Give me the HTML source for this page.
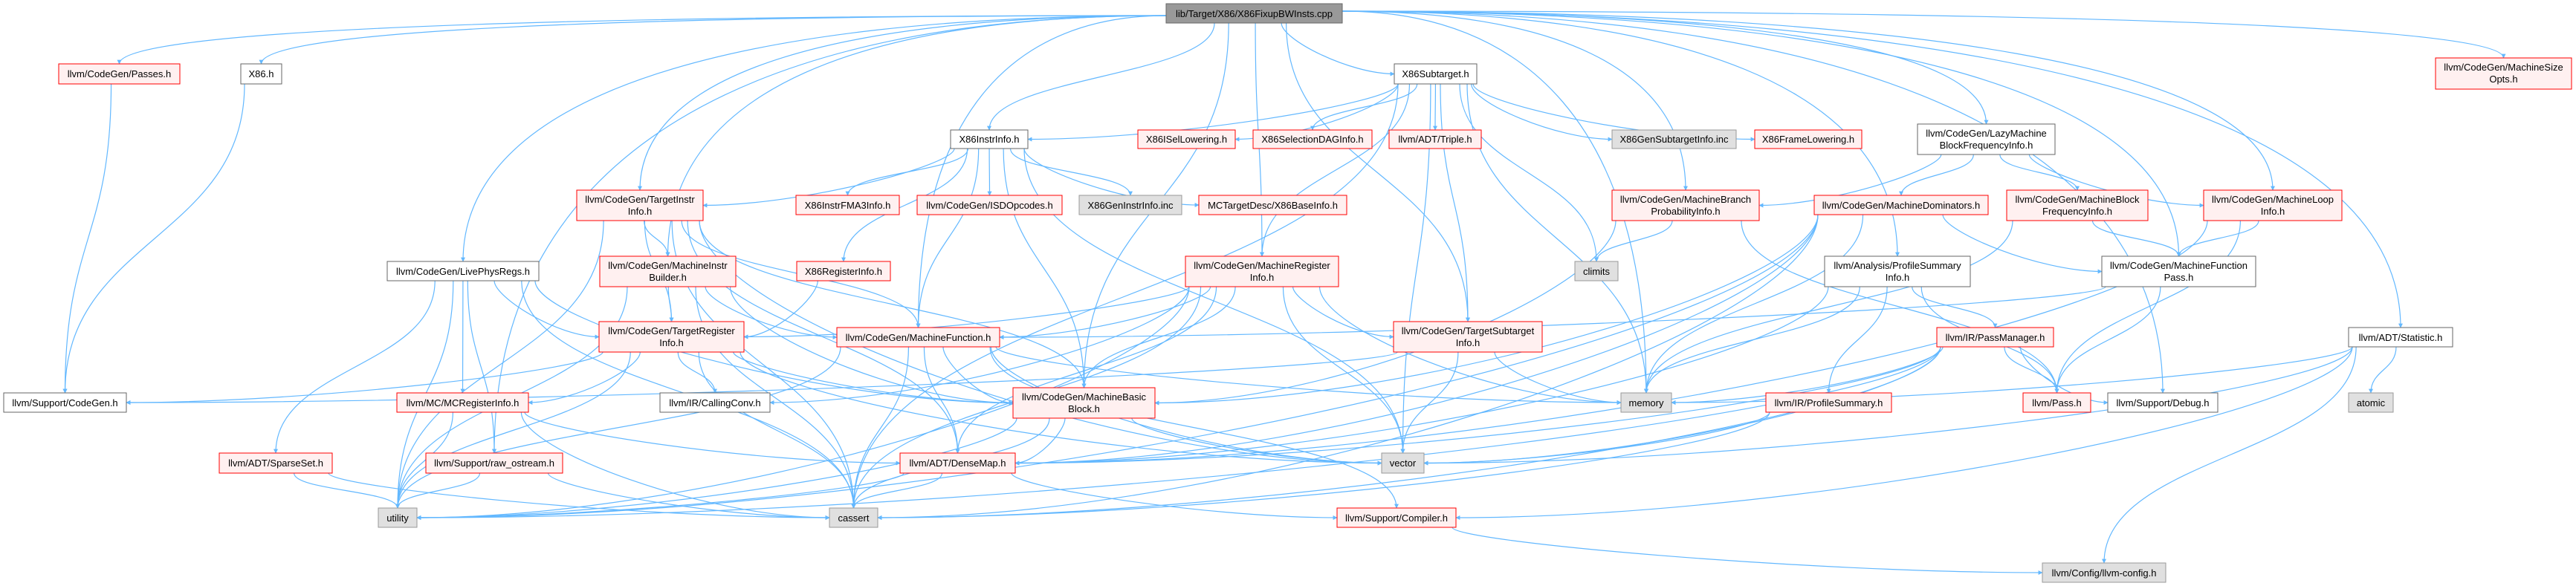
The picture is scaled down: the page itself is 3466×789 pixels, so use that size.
<!DOCTYPE html>
<html><head><meta charset="utf-8"><style>
html,body{margin:0;padding:0;background:#fff;}
svg{display:block;}
text{font-family:"Liberation Sans",Arial,sans-serif;font-size:13px;fill:#000;}
</style></head><body>
<svg id="g" width="3466" height="789" viewBox="0 0 3466 789" xmlns="http://www.w3.org/2000/svg">
<defs><marker id="a" viewBox="0 0 10 10" refX="9" refY="5" markerWidth="6" markerHeight="6" orient="auto-start-reverse" markerUnits="userSpaceOnUse"><path d="M0,0 L10,5 L0,10 z" fill="#63b8ff"/></marker></defs>
<g id="edges" fill="none" stroke="#63b8ff" stroke-width="1.2"></g>
<g id="nodes">
<rect x="1569" y="5" width="237" height="26" fill="#999" stroke="#666"/><text x="1687.5" y="23" text-anchor="middle">lib/Target/X86/X86FixupBWInsts.cpp</text>
<rect x="79" y="86" width="163" height="27" fill="#fff0f0" stroke="#f00"/><text x="160.5" y="104" text-anchor="middle">llvm/CodeGen/Passes.h</text>
<rect x="324" y="86" width="55" height="27" fill="#fff" stroke="#666"/><text x="351.5" y="104" text-anchor="middle">X86.h</text>
<rect x="1876" y="86" width="111" height="27" fill="#fff" stroke="#666"/><text x="1931.5" y="104" text-anchor="middle">X86Subtarget.h</text>
<rect x="3277" y="78" width="183" height="42" fill="#fff0f0" stroke="#f00"/><text x="3368.5" y="95" text-anchor="middle">llvm/CodeGen/MachineSize</text><text x="3368.5" y="111" text-anchor="middle">Opts.h</text>
<rect x="1279" y="175" width="104" height="25" fill="#fff" stroke="#666"/><text x="1331" y="192" text-anchor="middle">X86InstrInfo.h</text>
<rect x="1531" y="175" width="131" height="25" fill="#fff0f0" stroke="#f00"/><text x="1596.5" y="192" text-anchor="middle">X86ISelLowering.h</text>
<rect x="1686" y="175" width="160" height="25" fill="#fff0f0" stroke="#f00"/><text x="1766" y="192" text-anchor="middle">X86SelectionDAGInfo.h</text>
<rect x="1869" y="175" width="124" height="25" fill="#fff0f0" stroke="#f00"/><text x="1931" y="192" text-anchor="middle">llvm/ADT/Triple.h</text>
<rect x="2169" y="175" width="167" height="25" fill="#e0e0e0" stroke="#999"/><text x="2252.5" y="192" text-anchor="middle">X86GenSubtargetInfo.inc</text>
<rect x="2361" y="175" width="144" height="25" fill="#fff0f0" stroke="#f00"/><text x="2433" y="192" text-anchor="middle">X86FrameLowering.h</text>
<rect x="2580" y="167" width="185" height="41" fill="#fff" stroke="#666"/><text x="2672.5" y="184" text-anchor="middle">llvm/CodeGen/LazyMachine</text><text x="2672.5" y="200" text-anchor="middle">BlockFrequencyInfo.h</text>
<rect x="776" y="256" width="170" height="41" fill="#fff0f0" stroke="#f00"/><text x="861" y="273" text-anchor="middle">llvm/CodeGen/TargetInstr</text><text x="861" y="289" text-anchor="middle">Info.h</text>
<rect x="1071" y="263" width="139" height="26" fill="#fff0f0" stroke="#f00"/><text x="1140.5" y="281" text-anchor="middle">X86InstrFMA3Info.h</text>
<rect x="1234" y="263" width="195" height="26" fill="#fff0f0" stroke="#f00"/><text x="1331.5" y="281" text-anchor="middle">llvm/CodeGen/ISDOpcodes.h</text>
<rect x="1452" y="263" width="138" height="26" fill="#e0e0e0" stroke="#999"/><text x="1521" y="281" text-anchor="middle">X86GenInstrInfo.inc</text>
<rect x="1613" y="263" width="199" height="26" fill="#fff0f0" stroke="#f00"/><text x="1712.5" y="281" text-anchor="middle">MCTargetDesc/X86BaseInfo.h</text>
<rect x="2169" y="256" width="198" height="41" fill="#fff0f0" stroke="#f00"/><text x="2268" y="273" text-anchor="middle">llvm/CodeGen/MachineBranch</text><text x="2268" y="289" text-anchor="middle">ProbabilityInfo.h</text>
<rect x="2441" y="263" width="234" height="26" fill="#fff0f0" stroke="#f00"/><text x="2558" y="281" text-anchor="middle">llvm/CodeGen/MachineDominators.h</text>
<rect x="2700" y="256" width="190" height="41" fill="#fff0f0" stroke="#f00"/><text x="2795" y="273" text-anchor="middle">llvm/CodeGen/MachineBlock</text><text x="2795" y="289" text-anchor="middle">FrequencyInfo.h</text>
<rect x="2965" y="256" width="186" height="41" fill="#fff0f0" stroke="#f00"/><text x="3058" y="273" text-anchor="middle">llvm/CodeGen/MachineLoop</text><text x="3058" y="289" text-anchor="middle">Info.h</text>
<rect x="521" y="352" width="204" height="26" fill="#fff" stroke="#666"/><text x="623" y="370" text-anchor="middle">llvm/CodeGen/LivePhysRegs.h</text>
<rect x="807" y="345" width="183" height="41" fill="#fff0f0" stroke="#f00"/><text x="898.5" y="362" text-anchor="middle">llvm/CodeGen/MachineInstr</text><text x="898.5" y="378" text-anchor="middle">Builder.h</text>
<rect x="1072" y="352" width="126" height="26" fill="#fff0f0" stroke="#f00"/><text x="1135" y="370" text-anchor="middle">X86RegisterInfo.h</text>
<rect x="1595" y="345" width="206" height="41" fill="#fff0f0" stroke="#f00"/><text x="1698" y="362" text-anchor="middle">llvm/CodeGen/MachineRegister</text><text x="1698" y="378" text-anchor="middle">Info.h</text>
<rect x="2119" y="352" width="58" height="26" fill="#e0e0e0" stroke="#999"/><text x="2148" y="370" text-anchor="middle">climits</text>
<rect x="2455" y="345" width="196" height="41" fill="#fff" stroke="#666"/><text x="2553" y="362" text-anchor="middle">llvm/Analysis/ProfileSummary</text><text x="2553" y="378" text-anchor="middle">Info.h</text>
<rect x="2828" y="345" width="207" height="41" fill="#fff" stroke="#666"/><text x="2931.5" y="362" text-anchor="middle">llvm/CodeGen/MachineFunction</text><text x="2931.5" y="378" text-anchor="middle">Pass.h</text>
<rect x="806" y="433" width="195" height="41" fill="#fff0f0" stroke="#f00"/><text x="903.5" y="450" text-anchor="middle">llvm/CodeGen/TargetRegister</text><text x="903.5" y="466" text-anchor="middle">Info.h</text>
<rect x="1126" y="441" width="219" height="26" fill="#fff0f0" stroke="#f00"/><text x="1235.5" y="459" text-anchor="middle">llvm/CodeGen/MachineFunction.h</text>
<rect x="1875" y="433" width="200" height="41" fill="#fff0f0" stroke="#f00"/><text x="1975" y="450" text-anchor="middle">llvm/CodeGen/TargetSubtarget</text><text x="1975" y="466" text-anchor="middle">Info.h</text>
<rect x="2606" y="441" width="157" height="26" fill="#fff0f0" stroke="#f00"/><text x="2684.5" y="459" text-anchor="middle">llvm/IR/PassManager.h</text>
<rect x="3160" y="441" width="140" height="26" fill="#fff" stroke="#666"/><text x="3230" y="459" text-anchor="middle">llvm/ADT/Statistic.h</text>
<rect x="5" y="529" width="165" height="26" fill="#fff" stroke="#666"/><text x="87.5" y="547" text-anchor="middle">llvm/Support/CodeGen.h</text>
<rect x="534" y="529" width="177" height="26" fill="#fff0f0" stroke="#f00"/><text x="622.5" y="547" text-anchor="middle">llvm/MC/MCRegisterInfo.h</text>
<rect x="888" y="529" width="148" height="26" fill="#fff" stroke="#666"/><text x="962" y="547" text-anchor="middle">llvm/IR/CallingConv.h</text>
<rect x="1363" y="522" width="191" height="41" fill="#fff0f0" stroke="#f00"/><text x="1458.5" y="539" text-anchor="middle">llvm/CodeGen/MachineBasic</text><text x="1458.5" y="555" text-anchor="middle">Block.h</text>
<rect x="2181" y="529" width="68" height="26" fill="#e0e0e0" stroke="#999"/><text x="2215" y="547" text-anchor="middle">memory</text>
<rect x="2376" y="529" width="169" height="26" fill="#fff0f0" stroke="#f00"/><text x="2460.5" y="547" text-anchor="middle">llvm/IR/ProfileSummary.h</text>
<rect x="2722" y="529" width="91" height="26" fill="#fff0f0" stroke="#f00"/><text x="2767.5" y="547" text-anchor="middle">llvm/Pass.h</text>
<rect x="2836" y="529" width="148" height="26" fill="#fff" stroke="#666"/><text x="2910" y="547" text-anchor="middle">llvm/Support/Debug.h</text>
<rect x="3160" y="529" width="60" height="26" fill="#e0e0e0" stroke="#999"/><text x="3190" y="547" text-anchor="middle">atomic</text>
<rect x="295" y="610" width="152" height="27" fill="#fff0f0" stroke="#f00"/><text x="371" y="628" text-anchor="middle">llvm/ADT/SparseSet.h</text>
<rect x="573" y="610" width="184" height="27" fill="#fff0f0" stroke="#f00"/><text x="665" y="628" text-anchor="middle">llvm/Support/raw_ostream.h</text>
<rect x="1211" y="610" width="155" height="27" fill="#fff0f0" stroke="#f00"/><text x="1288.5" y="628" text-anchor="middle">llvm/ADT/DenseMap.h</text>
<rect x="1859" y="610" width="57" height="27" fill="#e0e0e0" stroke="#999"/><text x="1887.5" y="628" text-anchor="middle">vector</text>
<rect x="509" y="684" width="52" height="26" fill="#e0e0e0" stroke="#999"/><text x="535" y="702" text-anchor="middle">utility</text>
<rect x="1116" y="684" width="65" height="26" fill="#e0e0e0" stroke="#999"/><text x="1148.5" y="702" text-anchor="middle">cassert</text>
<rect x="1799" y="684" width="160" height="26" fill="#fff0f0" stroke="#f00"/><text x="1879" y="702" text-anchor="middle">llvm/Support/Compiler.h</text>
<rect x="2748" y="758" width="166" height="26" fill="#e0e0e0" stroke="#999"/><text x="2831" y="776" text-anchor="middle">llvm/Config/llvm-config.h</text>
</g>
</svg>
<script>
var N={
root:[1569,1806,5,31],passes:[79,242,86,113],x86:[324,379,86,113],sub:[1876,1987,86,113],mso:[3277,3460,78,120],
ii:[1279,1383,175,200],isel:[1531,1662,175,200],sdag:[1686,1846,175,200],triple:[1869,1993,175,200],gsi:[2169,2336,175,200],fl:[2361,2505,175,200],lazy:[2580,2765,167,208],
tii:[776,946,256,297],fma:[1071,1210,263,289],isd:[1234,1429,263,289],gii:[1452,1590,263,289],bi:[1613,1812,263,289],mbpi:[2169,2367,256,297],dom:[2441,2675,263,289],mbfi:[2700,2890,256,297],mli:[2965,3151,256,297],
lpr:[521,725,352,378],mib:[807,990,345,386],xri:[1072,1198,352,378],mri:[1595,1801,345,386],climits:[2119,2177,352,378],psi:[2455,2651,345,386],mfp:[2828,3035,345,386],
tri:[806,1001,433,474],mf:[1126,1345,441,467],tsi:[1875,2075,433,474],pm:[2606,2763,441,467],stat:[3160,3300,441,467],
cg:[5,170,529,555],mcri:[534,711,529,555],cc:[888,1036,529,555],mbb:[1363,1554,522,563],memory:[2181,2249,529,555],ps:[2376,2545,529,555],pass:[2722,2813,529,555],dbg:[2836,2984,529,555],atomic:[3160,3220,529,555],
ss:[295,447,610,637],raw:[573,757,610,637],dm:[1211,1366,610,637],vector:[1859,1916,610,637],
utility:[509,561,684,710],cassert:[1116,1181,684,710],comp:[1799,1959,684,710],cfg:[2748,2914,758,784]};
var E=[
['root','passes'],['root','x86'],['root','sub'],['root','ii'],['root','tii'],['root','mib'],['root','lpr'],['root','raw'],['root','mri'],['root','mbb'],['root','mf'],['root','lazy'],['root','mbpi'],['root','mli'],['root','mfp'],['root','mso'],['root','stat'],['root','dbg'],['root','psi'],['root','tsi'],['root','memory'],
['x86','cg'],['passes','cg'],
['sub','ii'],['sub','isel'],['sub','sdag'],['sub','triple'],['sub','gsi'],['sub','fl'],['sub','climits'],['sub','memory'],['sub','tsi'],['sub','mri'],['sub','vector'],['sub','cassert'],
['ii','tii'],['ii','fma'],['ii','isd'],['ii','gii'],['ii','bi'],['ii','xri'],['ii','mf'],['ii','mbb'],['ii','vector'],
['tii','mib'],['tii','tri'],['tii','mbb'],['tii','mf'],['tii','utility'],['tii','cassert'],['tii','dm'],['tii','vector'],
['mib','tri'],['mib','mf'],['mib','mbb'],['mib','utility'],['mib','cassert'],
['xri','tri'],
['lpr','tri'],['lpr','mcri'],['lpr','ss'],['lpr','mbb'],['lpr','utility'],['lpr','cassert'],['lpr','raw'],
['tri','cc'],['tri','mcri'],['tri','mbb'],['tri','cg'],['tri','cassert'],['tri','utility'],['tri','vector'],
['mcri','utility'],['mcri','dm'],['mcri','cassert'],
['ss','utility'],['ss','cassert'],['raw','cassert'],['raw','utility'],
['mf','mbb'],['mf','dm'],['mf','cassert'],['mf','utility'],['mf','vector'],['mf','comp'],['mf','memory'],
['mbb','dm'],['mbb','cassert'],['mbb','vector'],['mbb','utility'],
['dm','cassert'],['dm','utility'],['dm','comp'],
['mri','tri'],['mri','mf'],['mri','mbb'],['mri','tsi'],['mri','dm'],['mri','cassert'],['mri','vector'],['mri','memory'],['mri','utility'],['mri','cc'],
['tsi','memory'],['tsi','vector'],['tsi','cg'],
['mbpi','climits'],['mbpi','mbb'],['mbpi','pass'],
['lazy','mbpi'],['lazy','dom'],['lazy','mbfi'],['lazy','mli'],
['dom','mbb'],['dom','mfp'],['dom','memory'],['dom','cassert'],['dom','dm'],['dom','utility'],
['mbfi','mfp'],['mbfi','memory'],
['mli','mfp'],['mli','pass'],['mli','dm'],
['mfp','mf'],['mfp','pass'],
['psi','pm'],['psi','ps'],['psi','pass'],['psi','memory'],['psi','dm'],
['pm','pass'],['pm','dbg'],['pm','memory'],['pm','dm'],['pm','cassert'],['pm','utility'],['pm','vector'],
['ps','vector'],['ps','cassert'],
['stat','atomic'],['stat','memory'],['stat','cfg'],['stat','comp'],['stat','vector'],
['comp','cfg']];
var g=document.getElementById('edges'),s='';
E.forEach(function(e){var a=N[e[0]],b=N[e[1]];
var sx=(a[0]+a[1])/2,sy=a[3],tx=(b[0]+b[1])/2,ty=b[2];
var d;
if(e[0]=='root' && (b[1]<a[0]-200 || b[0]>a[1]+200)){
 var left=b[1]<a[0]; sx=left?a[0]:a[1]; sy=(a[2]+a[3])/2+ (left?1:-1)*3;
 var dy=ty-sy;
 d='M'+sx+','+sy+' C'+(sx+(tx-sx)*0.6)+','+sy+' '+tx+','+(sy+dy*0.3)+' '+tx+','+ty;
}else if(b[2]>a[3]+5){
 var dy=ty-sy; sx+=Math.max(-(a[1]-a[0])/2+5,Math.min((a[1]-a[0])/2-5,(tx-sx)*0.15));
 if(Math.abs(tx-sx)>dy*3){
   if(b[0]>sx){tx=b[0];}else{tx=b[1];} ty=(b[2]+b[3])/2;
   d='M'+sx+','+sy+' C'+sx+','+(sy+dy*0.4)+' '+(tx+(sx-tx)*0.4)+','+ty+' '+tx+','+ty;
 } else d='M'+sx+','+sy+' C'+sx+','+(sy+dy*0.5)+' '+tx+','+(ty-dy*0.5)+' '+tx+','+ty;
}else{
 var left=b[1]<a[0];sx=left?a[0]:a[1];sy=(a[2]+a[3])/2;tx=left?b[1]:b[0];ty=(b[2]+b[3])/2;
 d='M'+sx+','+sy+' C'+((sx+tx)/2)+','+sy+' '+((sx+tx)/2)+','+ty+' '+tx+','+ty;
}
s+='<path d="'+d+'" marker-end="url(#a)"/>';});
g.innerHTML=s;
</script>
</body></html>
